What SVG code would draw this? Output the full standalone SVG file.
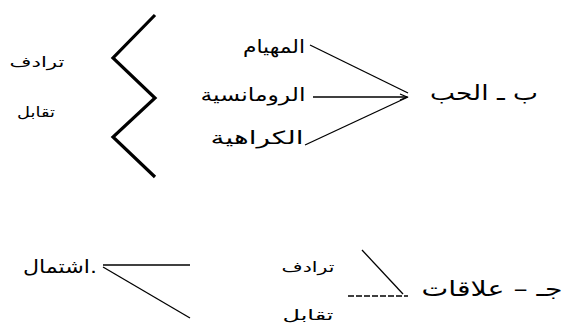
<svg xmlns="http://www.w3.org/2000/svg" width="571" height="329" viewBox="0 0 571 329">
<style>
text{font-family:"DejaVu Sans","Noto Sans",sans-serif;fill:#000;text-anchor:middle}
.s{font-size:14px}
.m{font-size:18px}
.l{font-size:21px}
.ln{stroke:#000;stroke-width:1.3;fill:none}
</style>
<rect width="571" height="329" fill="#fff"/>
<g id="zigzag"><polyline points="155,15 113,58 155,98 113,137 155,177" fill="none" stroke="#000" stroke-width="3.2" stroke-linejoin="miter"/></g>
<g id="n-taraduf1"><text class="s" x="37" y="67" textLength="55" lengthAdjust="spacingAndGlyphs">ترادف</text></g>
<g id="n-taqabul1"><text class="s" x="36" y="117" textLength="38" lengthAdjust="spacingAndGlyphs">تقابل</text></g>
<g id="n-huyam"><text class="m" x="274" y="53" textLength="62" lengthAdjust="spacingAndGlyphs">المهيام</text></g>
<g id="n-romansia"><text class="m" x="253" y="101" textLength="105" lengthAdjust="spacingAndGlyphs">الرومانسية</text></g>
<g id="n-karahia"><text class="m" x="257" y="144" textLength="93" lengthAdjust="spacingAndGlyphs">الكراهية</text></g>
<g id="n-hubb"><text class="l" x="484" y="100" textLength="108" lengthAdjust="spacingAndGlyphs">ب ـ الحب</text></g>
<g id="n-ishtimal"><text class="m" x="60" y="273" textLength="74" lengthAdjust="spacingAndGlyphs">اشتمال.</text></g>
<g id="n-taraduf2"><text class="s" x="308" y="272" textLength="53" lengthAdjust="spacingAndGlyphs">ترادف</text></g>
<g id="n-taqabul2"><text class="s" x="308" y="320" textLength="51" lengthAdjust="spacingAndGlyphs">تقابل</text></g>
<g id="n-alaqat"><text class="l" x="492" y="296" textLength="141" lengthAdjust="spacingAndGlyphs">جـ – علاقات</text></g>
<g id="connectors">
<line class="ln" x1="310" y1="45" x2="408" y2="93"/>
<line class="ln" x1="313" y1="97" x2="407" y2="97"/>
<polyline class="ln" points="400,94 407,97 400,100"/>
<line class="ln" x1="305" y1="145" x2="408" y2="97"/>
<line class="ln" x1="103" y1="265" x2="190" y2="265"/>
<line class="ln" x1="103" y1="267" x2="190" y2="318"/>
<line class="ln" x1="362" y1="250" x2="403" y2="294"/>
<line class="ln" x1="348" y1="296" x2="408" y2="296" stroke-dasharray="6,2"/>
</g>
</svg>
